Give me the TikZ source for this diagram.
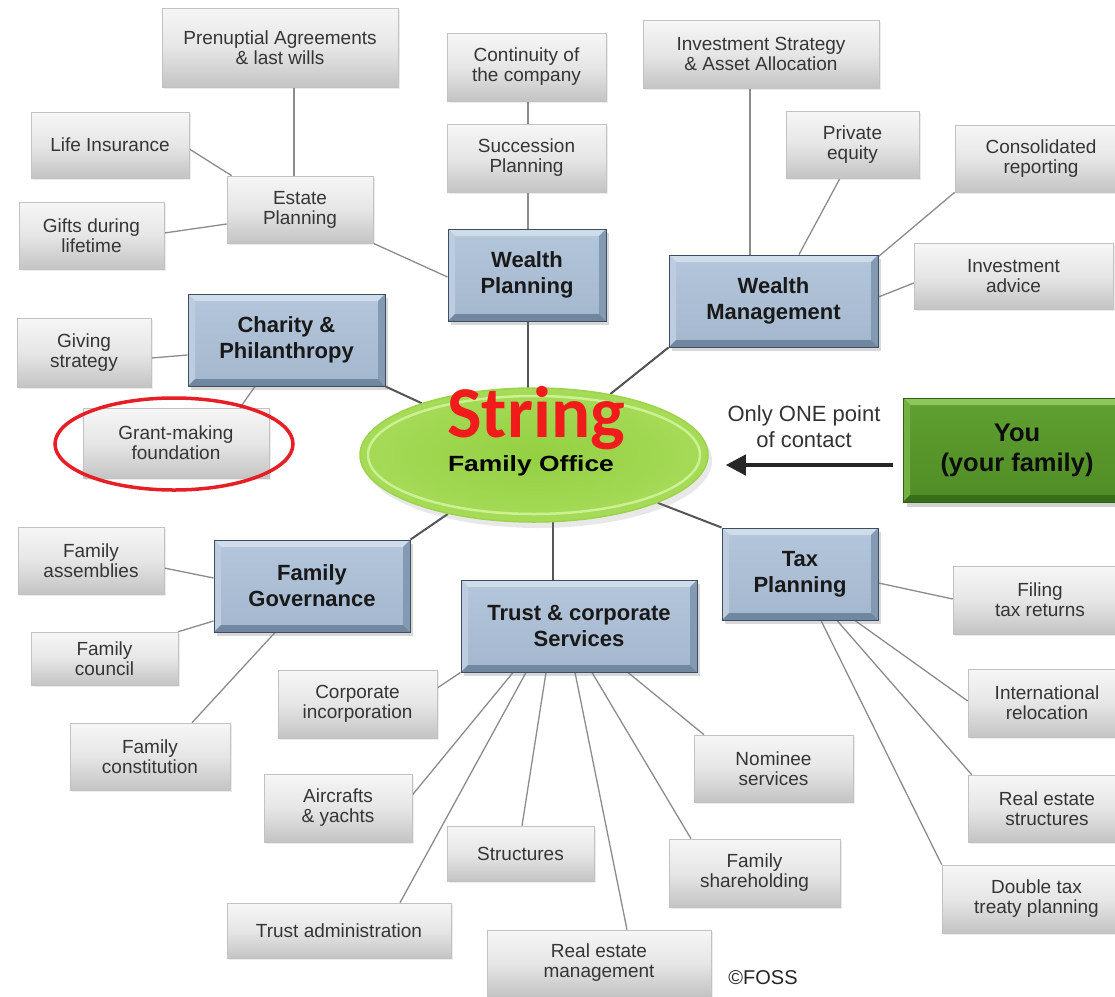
\documentclass[tikz,border=0pt]{standalone}
\usepackage{graphicx}
\usepackage{fontspec}
\setmainfont{Liberation Sans}
\newfontfamily\carlito{Carlito}
\usetikzlibrary{shapes.geometric,arrows.meta,shadows,backgrounds}

\definecolor{leaftext}{HTML}{353535}
\definecolor{leafdraw}{HTML}{C2C2C2}
\definecolor{leaftop}{HTML}{F6F6F6}
\definecolor{leafmid}{HTML}{E6E6E6}
\definecolor{leafbot}{HTML}{C4C4C4}
\definecolor{catfaceA}{HTML}{B4C6DB}
\definecolor{catfaceB}{HTML}{A3B7CE}
\definecolor{catT}{HTML}{CFDCEA}
\definecolor{catL}{HTML}{BDCCDE}
\definecolor{catR}{HTML}{8499B2}
\definecolor{catB}{HTML}{71869F}
\definecolor{catedge}{HTML}{3E4E62}
\definecolor{grfaceA}{HTML}{60A030}
\definecolor{grfaceB}{HTML}{508C26}
\definecolor{grT}{HTML}{8CC65C}
\definecolor{grL}{HTML}{74AF45}
\definecolor{grR}{HTML}{457F21}
\definecolor{grB}{HTML}{386E1A}
\definecolor{gredge}{HTML}{2F5E16}
\definecolor{hubin}{HTML}{94D042}
\definecolor{hubout}{HTML}{A6DB58}
\definecolor{hubrim}{HTML}{CBF192}
\definecolor{hubedge}{HTML}{9CD24C}
\definecolor{lineleaf}{HTML}{8C8C8C}
\definecolor{linehub}{HTML}{555555}
\definecolor{brandred}{HTML}{F21B1B}
\definecolor{ringred}{HTML}{E61E25}
\definecolor{labeltext}{HTML}{333333}

\newcommand{\bevelfill}[7]{%
\shade[top color=#1,bottom color=#2] (path picture bounding box.south west) rectangle (path picture bounding box.north east);
\fill[#3] (path picture bounding box.north west) -- (path picture bounding box.north east) -- ([xshift=-#7,yshift=-#7]path picture bounding box.north east) -- ([xshift=#7,yshift=-#7]path picture bounding box.north west) -- cycle;
\fill[#4] (path picture bounding box.north west) -- ([xshift=#7,yshift=-#7]path picture bounding box.north west) -- ([xshift=#7,yshift=#7]path picture bounding box.south west) -- (path picture bounding box.south west) -- cycle;
\fill[#5] (path picture bounding box.north east) -- ([xshift=-#7,yshift=-#7]path picture bounding box.north east) -- ([xshift=-#7,yshift=#7]path picture bounding box.south east) -- (path picture bounding box.south east) -- cycle;
\fill[#6] (path picture bounding box.south west) -- ([xshift=#7,yshift=#7]path picture bounding box.south west) -- ([xshift=-#7,yshift=#7]path picture bounding box.south east) -- (path picture bounding box.south east) -- cycle;
}

\tikzset{
  leafbox/.style={rectangle, draw=leafdraw, line width=0.6pt, top color=leaftop, bottom color=leafbot, middle color=leafmid,
    text=leaftext, font=\fontsize{19}{20}\selectfont, align=center, inner sep=0pt,
    drop shadow={shadow xshift=2pt, shadow yshift=-2pt, opacity=0.15}},
  catbox/.style={rectangle, draw=catedge, line width=1pt, inner sep=0pt, align=center, text=black!90,
    font=\bfseries\fontsize{22}{26}\selectfont,
    drop shadow={shadow xshift=3pt, shadow yshift=-4pt, opacity=0.3},
    path picture={\bevelfill{catfaceA}{catfaceB}{catT}{catL}{catR}{catB}{7pt}}},
  youbox/.style={rectangle, draw=gredge, line width=1pt, inner sep=0pt, align=center, text=black!95,
    font=\bfseries\fontsize{25.5}{30}\selectfont,
    drop shadow={shadow xshift=4pt, shadow yshift=-5pt, opacity=0.35},
    path picture={\bevelfill{grfaceA}{grfaceB}{grT}{grL}{grR}{grB}{7pt}}},
  hub/.style={ellipse, draw=hubedge, line width=1.5pt, inner color=hubin, outer color=hubout, inner sep=0pt,
    drop shadow={shadow xshift=4pt, shadow yshift=-6pt, opacity=0.18}},
  leafline/.style={draw=lineleaf, line width=1.3pt},
  hubline/.style={draw=linehub, line width=2pt},
}

\begin{document}
\begin{tikzpicture}[x=1pt,y=-1pt]
\useasboundingbox (0,0) rectangle (1115,996);

% leaf boxes
\node[leafbox, minimum width=236pt, minimum height=79pt] (prenup) at (280,47.5) {Prenuptial Agreements\\\& last wills};
\node[leafbox, minimum width=159pt, minimum height=68pt] (contin) at (526.5,67) {Continuity of\\the company};
\node[leafbox, minimum width=236pt, minimum height=68pt] (invstrat) at (761,54) {Investment Strategy\\\& Asset Allocation};
\node[leafbox, minimum width=158pt, minimum height=66pt] (lifeins) at (110,145) {Life Insurance};
\node[leafbox, minimum width=159pt, minimum height=68pt] (success) at (526.5,158) {Succession\\Planning};
\node[leafbox, minimum width=133pt, minimum height=67pt] (privEq) at (852.5,144.5) {Private\\equity};
\node[leafbox, minimum width=172pt, minimum height=67pt] (consol) at (1041,158.5) {Consolidated\\reporting};
\node[leafbox, minimum width=146pt, minimum height=67pt] (estate) at (300,209.5) {Estate\\Planning};
\node[leafbox, minimum width=145pt, minimum height=67pt] (gifts) at (91.5,235.5) {Gifts during\\lifetime};
\node[leafbox, minimum width=199pt, minimum height=66pt] (invadv) at (1013.5,276) {Investment\\advice};
\node[leafbox, minimum width=134pt, minimum height=69pt] (giving) at (84,352.5) {Giving\\strategy};
\node[leafbox, minimum width=186pt, minimum height=70pt] (grant) at (176,443) {Grant-making\\foundation};
\node[leafbox, minimum width=146pt, minimum height=67pt] (assemb) at (91,560.5) {Family\\assemblies};
\node[leafbox, minimum width=147pt, minimum height=53pt] (council) at (104.5,658.5) {Family\\council};
\node[leafbox, minimum width=160pt, minimum height=67pt] (constit) at (150,756.5) {Family\\constitution};
\node[leafbox, minimum width=159pt, minimum height=68pt] (corpinc) at (357.5,704) {Corporate\\incorporation};
\node[leafbox, minimum width=148pt, minimum height=68pt] (aircraft) at (338,808) {Aircrafts\\\& yachts};
\node[leafbox, minimum width=147pt, minimum height=55pt] (struct) at (520.5,853.5) {Structures};
\node[leafbox, minimum width=224pt, minimum height=55pt] (trustadm) at (339,930.5) {Trust administration};
\node[leafbox, minimum width=224pt, minimum height=66pt] (remgmt) at (599,963) {Real estate\\management};
\node[leafbox, minimum width=171pt, minimum height=68pt] (famshare) at (754.5,873) {Family\\shareholding};
\node[leafbox, minimum width=159pt, minimum height=67pt] (nominee) at (773.5,768.5) {Nominee\\services};
\node[leafbox, minimum width=174pt, minimum height=68pt] (filing) at (1040,600) {Filing\\tax returns};
\node[leafbox, minimum width=158pt, minimum height=68pt] (intl) at (1047,703) {International\\relocation};
\node[leafbox, minimum width=158pt, minimum height=67pt] (restruct) at (1047,808.5) {Real estate\\structures};
\node[leafbox, minimum width=189pt, minimum height=68pt] (dtt) at (1036.5,899) {Double tax\\treaty planning};

% category boxes
\node[catbox, minimum width=158pt, minimum height=92pt] (wp) at (527,275) {Wealth\\Planning};
\node[catbox, minimum width=209pt, minimum height=92pt] (wm) at (773.5,301) {Wealth\\Management};
\node[catbox, minimum width=197pt, minimum height=92pt] (charity) at (286.5,340) {Charity \&\\Philanthropy};
\node[catbox, minimum width=196pt, minimum height=92pt] (fg) at (312,586) {Family\\Governance};
\node[catbox, minimum width=236pt, minimum height=92pt] (trust) at (579,626) {Trust \& corporate\\Services};
\node[catbox, minimum width=156pt, minimum height=92pt] (tax) at (800,574) {Tax\\Planning};

% hub
\node[hub, minimum width=348pt, minimum height=134pt] (ctr) at (534,455) {};
\draw[hubrim, line width=2.5pt] (ctr.center) ellipse [x radius=166pt, y radius=59pt];
\node[anchor=base, inner sep=0pt, font=\carlito\bfseries\fontsize{73}{73}\selectfont, text=brandred] (brand) at (536,437) {String};
\node[anchor=base, inner sep=0pt, font=\bfseries\fontsize{22}{26}\selectfont, text=black] (fo) at (531,471) {\scalebox{1.2}[1]{Family Office}};

% you
\node[youbox, minimum width=228pt, minimum height=104pt] (you) at (1017,450) {You\\(your family)};
\node[font=\fontsize{22}{26}\selectfont, text=labeltext, align=center] (contact) at (804,427) {Only ONE point\\of contact};
\draw[line width=4pt, draw=black!85, -{Triangle[length=20pt,width=20pt]}] ([xshift=-10pt,yshift=-15pt]you.west) -- ([xshift=17pt,yshift=-10pt]ctr.east);

% red ring
\node[draw=ringred, line width=3.5pt, ellipse, minimum width=238pt, minimum height=92pt, inner sep=0pt] (ring) at (174,444) {};

% copyright
\node[font=\fontsize{20}{24}\selectfont, text=black!85] (foss) at (763,978) {©FOSS};

\begin{pgfonlayer}{background}
\fill[white] (0,0) rectangle (1115,996);
% estate / wealth planning
\draw[leafline] ([xshift=14pt]prenup.south) -- ([xshift=-6pt]estate.north);
\draw[leafline] ([yshift=-4pt]lifeins.east) -- ([xshift=5pt]estate.north west);
\draw[leafline] ([yshift=2.5pt]gifts.east) -- ([yshift=-14.5pt]estate.west);
\draw[leafline] (estate.south east) -- ([yshift=-2pt]wp.west);
\draw[leafline] ([xshift=1.5pt]contin.south) -- ([xshift=1.5pt]success.north);
\draw[leafline] ([xshift=1.5pt]success.south) -- ([xshift=1pt]wp.north);
\draw[hubline] ([xshift=1pt]wp.south) -- ([xshift=-6pt,yshift=-4pt]ctr.north);
% wealth management
\draw[leafline] ([xshift=-11pt]invstrat.south) -- ([xshift=-23.5pt]wm.north);
\draw[leafline] ([xshift=-12.5pt]privEq.south) -- ([xshift=25.5pt]wm.north);
\draw[leafline] (consol.south west) -- ([yshift=-2pt]wm.north east);
\draw[leafline] ([yshift=-7pt]invadv.west) -- ([yshift=4pt]wm.east);
\draw[hubline] (wm.south west) -- (ctr);
% charity
\draw[leafline] ([yshift=-15pt]charity.west) -- ([yshift=-5.5pt]giving.east);
\draw[leafline] ([xshift=-31.5pt]charity.south) -- ([xshift=64pt]grant.north);
\draw[hubline] (charity.south east) -- (ctr);
% family governance
\draw[hubline] (fg.north east) -- (ctr);
\draw[leafline] ([yshift=-7.5pt]assemb.east) -- ([yshift=8pt]fg.west);
\draw[leafline] (council.north east) -- ([yshift=-35pt]fg.west);
\draw[leafline] ([xshift=42pt]constit.north) -- ([xshift=-37pt]fg.south);
% trust
\draw[hubline] ([xshift=-26pt]trust.north) -- ([xshift=19pt,yshift=4pt]ctr.south);
\draw[leafline] ([yshift=16pt]corpinc.east) -- (trust.south west);
\draw[leafline] ([yshift=13pt]aircraft.east) -- ([xshift=-66pt]trust.south);
\draw[leafline] ([xshift=61pt]trustadm.north) -- ([xshift=-53pt]trust.south);
\draw[leafline] ([xshift=1.5pt]struct.north) -- ([xshift=-33pt]trust.south);
\draw[leafline] ([xshift=28pt]remgmt.north) -- ([xshift=-4pt]trust.south);
\draw[leafline] ([xshift=-63.5pt]famshare.north) -- ([xshift=13pt]trust.south);
\draw[leafline] ([xshift=-69.5pt]nominee.north) -- ([xshift=49pt]trust.south);
% tax
\draw[hubline] (tax.north west) -- (ctr);
\draw[leafline] ([yshift=-9pt]tax.east) -- ([yshift=1pt]filing.west);
\draw[leafline] ([xshift=55pt]tax.south) -- ([yshift=2pt]intl.west);
\draw[leafline] ([xshift=37pt]tax.south) -- ([xshift=4pt]restruct.north west);
\draw[leafline] ([xshift=21pt]tax.south) -- (dtt.north west);
\end{pgfonlayer}
\end{tikzpicture}
\end{document}
